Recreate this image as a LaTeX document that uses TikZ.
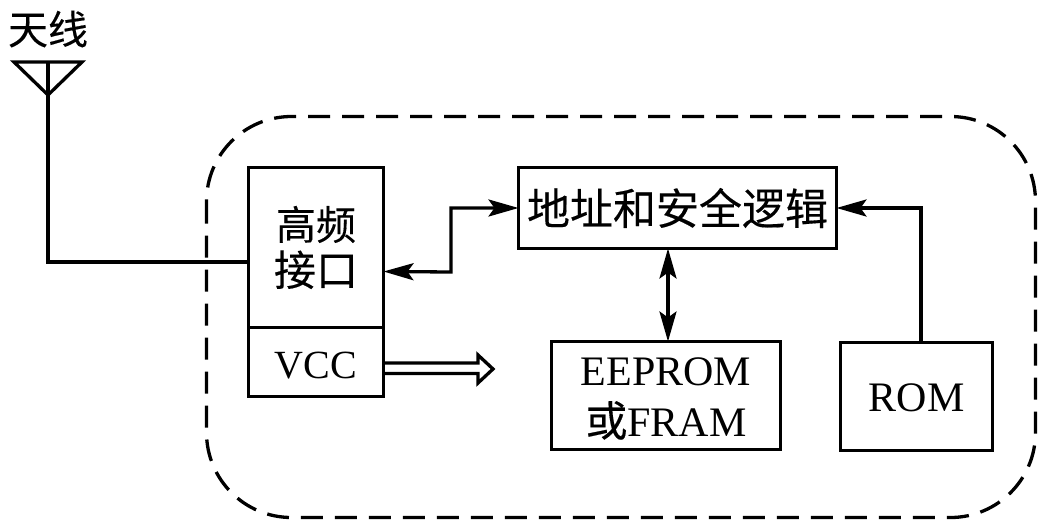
\documentclass[tikz,border=0pt]{standalone}
\usepackage{fontspec}
\setmainfont{Liberation Serif}
\newfontfamily\cjk[FakeBold=0.3]{Noto Sans CJK SC}
\usetikzlibrary{arrows.meta,calc}
\tikzset{
  x=1pt,y=-1pt,
  line/.style={line width=3.3pt,line join=miter},
  blockbox/.style={draw,line width=3.3pt,inner sep=0pt,outer sep=0pt,anchor=north west,align=center,font=\fontsize{42}{46}\selectfont},
  solidtip/.style={{Stealth[length=30pt,width=17pt,inset=6pt]}-{Stealth[length=30pt,width=17pt,inset=6pt]}},
  onetip/.style={-{Stealth[length=30pt,width=17pt,inset=6pt]}},
}
\begin{document}
\begin{tikzpicture}
\useasboundingbox (0,0) rectangle (1045,528);
\fill[white] (0,0) rectangle (1045,528);
% enclosure
\draw[line width=3.3pt,dash pattern=on 22pt off 12pt,rounded corners=85pt] (206.5,116.5) rectangle (1035.5,517.5);
% blocks
\node[blockbox,minimum width=135pt,minimum height=160pt] (rf) at (248.5,167.5) {\fontsize{40}{48}\selectfont{\cjk 高频}\\[0pt]{\cjk 接口}};
\node[blockbox,minimum width=135pt,minimum height=69pt,font=\fontsize{40}{46}\selectfont] (vcc) at (248.5,327.5) {\rule{0pt}{34pt}VCC};
\node[blockbox,minimum width=318pt,minimum height=81pt] (logic) at (518.5,167.5) {\fontsize{43}{46}\selectfont\cjk 地址和安全逻辑};
\node[blockbox,minimum width=229pt,minimum height=108pt] (mem) at (551.5,341.5) {\rule{0pt}{34pt}EEPROM\\[5pt]{\cjk 或}FRAM};
\node[blockbox,minimum width=152pt,minimum height=108pt] (rom) at (840.5,342.5) {\rule{0pt}{30pt}ROM};
% antenna
\node[font=\fontsize{40}{46}\selectfont\cjk,anchor=center] (antlabel) at (48,29) {天线};
\coordinate (tipa) at (48,95);
\coordinate (anttop) at (48,62);
\coordinate (corner) at (48,262);
\draw[line] (14,62) -- (82,62) -- (tipa) -- cycle;
\draw[line] (anttop) -- (corner) -- (rf.west |- corner);
% connectors
\coordinate (rfport) at ($(rf.east)+(0,24)$);
\coordinate (logport) at ($(logic.west)+(0,0)$);
\coordinate (bend) at (451,272);
\draw[line,solidtip] (rfport) -- (bend) |- (logport);
\draw[line,solidtip] (logic.south -| 668,0) -- (mem.north -| 668,0);
\coordinate (rombend) at (921,208);
\draw[line,onetip] (rom.north -| rombend) -- (rombend) -- (logic.east |- rombend);
% power arrow
\coordinate (powtop) at (vcc.east |- 0,363);
\coordinate (powbot) at (vcc.east |- 0,373.5);
\draw[line] (powtop) -- (478,363) -- (478,355) -- (493,369) -- (478,383) -- (478,373.5) -- (powbot);
\end{tikzpicture}
\end{document}
